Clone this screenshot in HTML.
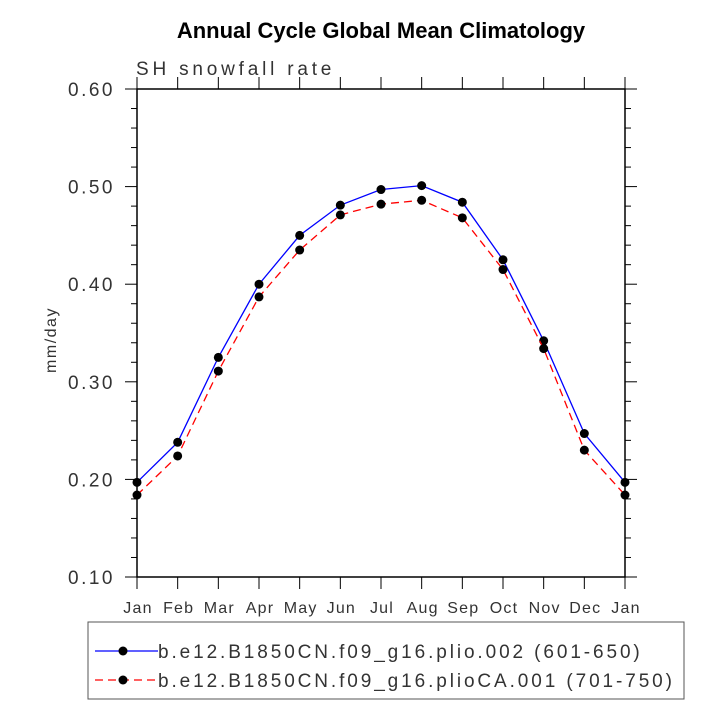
<!DOCTYPE html>
<html><head><meta charset="utf-8"><style>
body{margin:0;background:#fff;}
svg text{font-family:"Liberation Sans","DejaVu Sans",sans-serif;}
</style></head><body>
<svg width="718" height="718" viewBox="0 0 718 718" id="svg">
<text x="381" y="38" text-anchor="middle" font-size="22" font-weight="bold">Annual Cycle Global Mean Climatology</text>
<text x="136" y="75" font-size="19" fill="#333" letter-spacing="3.8">SH snowfall rate</text>
<text x="0" y="0" font-size="16" fill="#333" letter-spacing="1.5" transform="translate(56,340) rotate(-90)" text-anchor="middle">mm/day</text>
<g id="axes"></g>
<g id="series"></g>
<rect x="88" y="622" width="596" height="77" fill="none" stroke="#555" stroke-width="1"/>
<g>
<line x1="95" y1="651" x2="158" y2="651" stroke="#00f" stroke-width="1.3"/>
<circle cx="123" cy="651" r="4.5" fill="#000"/>
<text x="158" y="658" font-size="19" fill="#333" letter-spacing="2.9">b.e12.B1850CN.f09_g16.plio.002 (601-650)</text>
</g>
<g>
<line x1="95" y1="680" x2="158" y2="680" stroke="#f00" stroke-width="1.3" stroke-dasharray="8,5"/>
<circle cx="123" cy="680" r="4.5" fill="#000"/>
<text x="158" y="687" font-size="19" fill="#333" letter-spacing="2.9">b.e12.B1850CN.f09_g16.plioCA.001 (701-750)</text>
</g>
</svg>
<script>
const months=["Jan","Feb","Mar","Apr","May","Jun","Jul","Aug","Sep","Oct","Nov","Dec","Jan"];
const seriesPlio=[0.197,0.238,0.325,0.400,0.450,0.481,0.497,0.501,0.484,0.425,0.342,0.247,0.197];
const seriesPlioCA=[0.184,0.224,0.311,0.387,0.435,0.471,0.482,0.486,0.468,0.415,0.334,0.230,0.184];
const yTicks=["0.10","0.20","0.30","0.40","0.50","0.60"];
const X0=137,X1=625,Y0=577,Y1=89,YMIN=0.1,YMAX=0.6;
const NS="http://www.w3.org/2000/svg";
const xs=i=>X0+(X1-X0)*i/(months.length-1);
const ys=v=>Y0-(v-YMIN)/(YMAX-YMIN)*(Y0-Y1);
function mk(t,a,p){const e=document.createElementNS(NS,t);for(const k in a)e.setAttribute(k,a[k]);p.appendChild(e);return e;}
const ax=document.getElementById('axes');
const frame=mk('rect',{x:X0,y:Y1,width:X1-X0,height:Y0-Y1,fill:'none',stroke:'#000','stroke-width':1.5},ax);


for(let k=0;k<=25;k++){const v=YMIN+k*0.02;const y=ys(v);const major=k%5==0;const L=major?12:6;
mk('line',{x1:X0-L,y1:y,x2:X0,y2:y,stroke:'#000','stroke-width':1},ax);
mk('line',{x1:X1,y1:y,x2:X1+L,y2:y,stroke:'#000','stroke-width':1},ax);}
yTicks.forEach(t=>{const tx=mk('text',{x:X0-22,y:ys(parseFloat(t))+7,'text-anchor':'end','font-size':19,fill:'#333','letter-spacing':2.5},ax);tx.textContent=t;

});
months.forEach((m,i)=>{const x=xs(i);
mk('line',{x1:x,y1:Y0,x2:x,y2:Y0+12,stroke:'#000','stroke-width':1},ax);
mk('line',{x1:x,y1:Y1-12,x2:x,y2:Y1,stroke:'#000','stroke-width':1},ax);
const tx=mk('text',{x:x+1,y:613,'text-anchor':'middle','font-size':16,fill:'#333','letter-spacing':1.2},ax);tx.textContent=m;

});
const sg=document.getElementById('series');
function draw(vals,color,dash,name){
const g=mk('g',{},sg);


mk('polyline',{points:vals.map((v,i)=>xs(i)+','+ys(v)).join(' '),fill:'none',stroke:color,'stroke-width':1.3,'stroke-dasharray':dash},g);
vals.forEach((v,i)=>{const c=mk('circle',{cx:xs(i),cy:ys(v),r:4.5,fill:'#000'},g);

});}
draw(seriesPlio,'#00f','none','series-plio');
draw(seriesPlioCA,'#f00','8,5','series-plioca');
</script>
</body></html>
